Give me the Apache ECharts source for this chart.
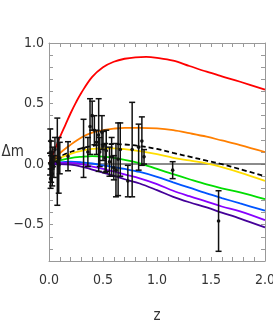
<!DOCTYPE html>
<html><head><meta charset="utf-8">
<script src="https://cdn.jsdelivr.net/npm/echarts@6/dist/echarts.min.js"></script>
<style>html,body{margin:0;padding:0;background:#fff}#c{width:273px;height:327px}</style>
</head><body><div id="c"></div>
<script>
const zRed = [0,0.05,0.1,0.15,0.2,0.25,0.3,0.4,0.5,0.6,0.7,0.8,0.9,1.0,1.15,1.3,1.46,1.6,1.77,2.0];
const vRed = [0,0.11,0.22,0.32,0.42,0.51,0.59,0.72,0.80,0.845,0.87,0.882,0.885,0.877,0.854,0.81,0.763,0.725,0.68,0.615];
const zC = [0,0.1,0.2,0.3,0.4,0.5,0.6,0.7,0.84,1.0,1.15,1.3,1.46,1.6,1.77,2.0];
const vOrange = [0,0.09,0.16,0.22,0.26,0.28,0.293,0.30,0.30,0.295,0.28,0.255,0.226,0.195,0.157,0.10];
const vDashed = [0,0.06,0.10,0.13,0.15,0.162,0.166,0.162,0.149,0.125,0.092,0.062,0.028,0.0,-0.042,-0.10];
const vYellow = [0,0.05,0.085,0.11,0.125,0.13,0.13,0.123,0.107,0.082,0.052,0.03,0.006,-0.025,-0.07,-0.138];
const vGreen = [0,0.03,0.05,0.06,0.066,0.062,0.052,0.035,0.006,-0.04,-0.083,-0.125,-0.168,-0.2,-0.234,-0.29];
const vBlue = [0,0.015,0.02,0.015,0.005,-0.01,-0.025,-0.04,-0.065,-0.105,-0.151,-0.195,-0.242,-0.28,-0.325,-0.385];
const vPurple = [0,0.01,0.01,0.0,-0.02,-0.04,-0.06,-0.085,-0.118,-0.165,-0.22,-0.265,-0.31,-0.35,-0.39,-0.463];
const vIndigo = [0,0.0,-0.005,-0.02,-0.045,-0.07,-0.095,-0.125,-0.16,-0.215,-0.27,-0.315,-0.358,-0.40,-0.45,-0.523];
// data points: redshift, delta m, error
const obsZ = [0.010,0.012,0.015,0.018,0.020,0.025,0.030,0.035,0.045,0.055,0.077,0.090,0.100,0.176,
  0.32,0.36,0.38,0.40,0.42,0.44,0.46,0.47,0.49,0.50,0.52,0.53,0.56,0.58,0.60,0.62,0.64,0.66,0.73,0.77,0.83,0.86,0.88,1.145,1.57];
const obsM = [0.00,0.19,-0.12,0.10,-0.04,0.03,-0.08,0.06,-0.02,0.12,0.02,-0.01,0.05,0.065,
  0.13,0.10,0.31,0.40,0.28,0.18,0.24,0.10,0.26,0.15,0.05,0.11,0.02,0.06,-0.03,-0.05,0.04,0.12,-0.14,0.12,0.14,0.19,0.06,-0.05,-0.47];
const obsE = [0.09,0.10,0.08,0.09,0.11,0.07,0.10,0.08,0.09,0.10,0.36,0.23,0.13,0.12,
  0.24,0.12,0.23,0.12,0.12,0.10,0.30,0.12,0.14,0.12,0.12,0.17,0.12,0.16,0.10,0.22,0.30,0.22,0.13,0.39,0.19,0.20,0.06,0.07,0.25];
const xTicks = ['0.0','0.5','1.0','1.5','2.0'];
const yTicks = ['−0.5','0.0','0.5','1.0'];

const pairs = (xs, ys) => xs.map((x,i)=>[x, ys[i]]);
const FONT = "'Liberation Sans Narrow','DejaVu Sans Condensed','Liberation Sans',sans-serif";
const frame = '#999';
function fmt(v){ const r=Math.round(v*10); if (r%5!==0) return ''; const s=(r/10).toFixed(1); return s.startsWith('-')?'−'+s.slice(1):s; }
function axisBase(type, pos, show){
  return {type:'value', position:pos, min: type==='x'?0:-0.8, max: type==='x'?2:1.0, interval:0.1,
    axisLine:{show:true, onZero:false, lineStyle:{color:frame,width:1}},
    axisTick:{show:true, inside:true, length:4, lineStyle:{color:frame}},
    splitLine:{show:false},
    axisLabel:{show:show, formatter:fmt, color:'#333', fontFamily:FONT, fontSize:14, margin: type==='x'?12:5}
  };
}
const chart = echarts.init(document.getElementById('c'), null, {renderer:'canvas'});
const lineS = (data, color, dashed) => ({type:'line', data, smooth:0.35, showSymbol:false, symbol:'none',
  lineStyle:{color, width:1.8, type: dashed?[5,3]:'solid'}, silent:true, z:2});
const obs = obsZ.map((z,i)=>[z, obsM[i], obsE[i]]);
chart.setOption({
  animation:false,
  grid:{left:49, right:8, top:43, bottom:66, containLabel:false, outerBoundsMode:'none'},
  xAxis:[Object.assign(axisBase('x','bottom',true),{name:'z', nameLocation:'middle', nameGap:48, nameTextStyle:{fontFamily:FONT,fontSize:15,color:'#333'}}),
         Object.assign(axisBase('x','top',false),{})],
  yAxis:[Object.assign(axisBase('y','left',true),{name:'Δm', nameLocation:'middle', nameGap:25, nameRotate:0, nameMoveOverlap:false, nameTextStyle:{fontFamily:FONT,fontSize:15,color:'#333', padding:[0,0,22,0]}}),
         Object.assign(axisBase('y','right',false),{})],
  series:[
    {type:'line', data:[[0,0],[2,0]], showSymbol:false, symbol:'none', lineStyle:{color:'#666',width:1.5}, z:1},
    lineS(pairs(zRed,vRed),'#ff0000'),
    lineS(pairs(zC,vOrange),'#ff7f00'),
    lineS(pairs(zC,vDashed),'#000000',true),
    lineS(pairs(zC,vYellow),'#ffdd00'),
    lineS(pairs(zC,vGreen),'#00dd00'),
    lineS(pairs(zC,vBlue),'#0055ff'),
    lineS(pairs(zC,vPurple),'#8800ff'),
    lineS(pairs(zC,vIndigo),'#440099'),
    {type:'custom', data:obs, z:5,
     renderItem:function(params, api){
       const z=api.value(0), m=api.value(1), e=api.value(2);
       const c=api.coord([z,m]), t=api.coord([z,m+e]), b=api.coord([z,m-e]);
       const st={stroke:'#111', lineWidth:1.5};
       return {type:'group', children:[
         {type:'line', shape:{x1:c[0],y1:t[1],x2:c[0],y2:b[1]}, style:st},
         {type:'line', shape:{x1:c[0]-3,y1:t[1],x2:c[0]+3,y2:t[1]}, style:st},
         {type:'line', shape:{x1:c[0]-3,y1:b[1],x2:c[0]+3,y2:b[1]}, style:st},
         {type:'circle', shape:{cx:c[0],cy:c[1],r:1.8}, style:{fill:'#111'}}
       ]};
     }}
  ]
});
</script></body></html>
